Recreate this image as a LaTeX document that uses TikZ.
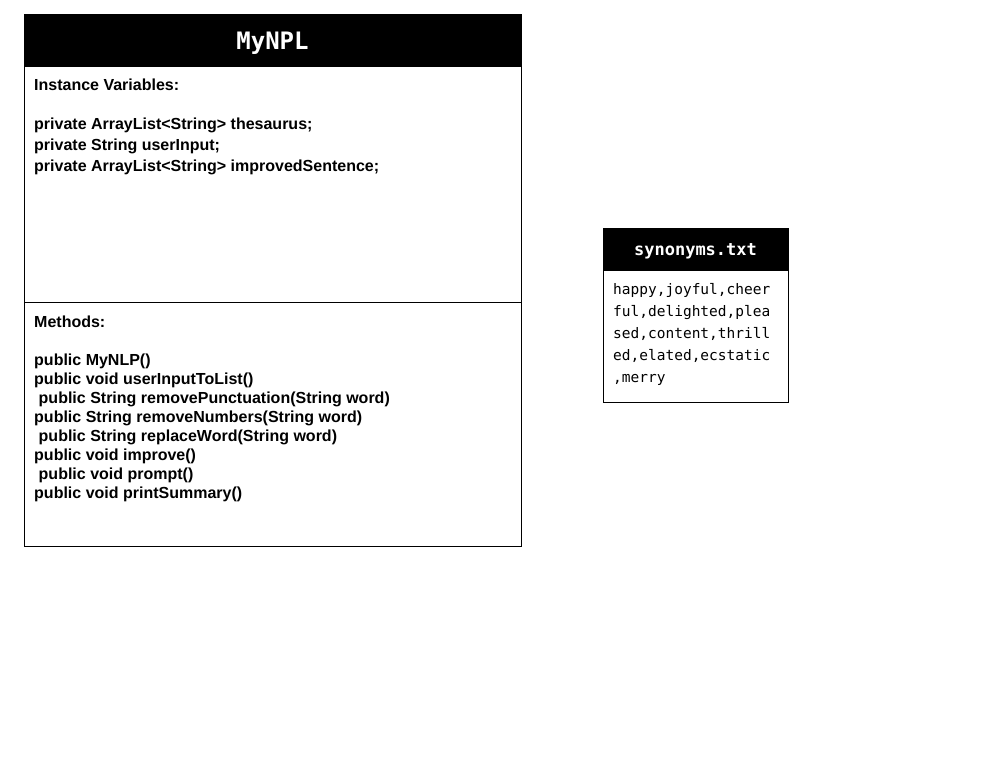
\documentclass[tikz,border=0pt]{standalone}
\usepackage{fontspec}
\setmainfont{Liberation Sans}
\newfontfamily\monof{DejaVu Sans Mono}
\begin{document}
\begin{tikzpicture}[x=1pt,y=-1pt,
  boxline/.style={draw=black,line width=0.8pt},
  head/.style={fill=black,draw=black,line width=0.8pt},
  txt/.style={anchor=base west,inner sep=0pt,font=\fontsize{16}{19}\selectfont\bfseries},
  mono/.style={anchor=base west,inner sep=0pt,font=\fontsize{14.5}{17}\monof}]
\useasboundingbox (0,0) rectangle (988,777);
% main class box
\draw[boxline,fill=white] (24,14) rectangle (521,546);
\filldraw[head] (24,14) rectangle (521,66);
\draw[boxline] (24,302) -- (521,302);
\node[inner sep=0pt,text=white,font=\fontsize{24}{28}\monof\bfseries] (title) at (272.5,43) {MyNPL};
\node[txt] (iv) at (34,90) {Instance Variables:};
\node[txt] (v1) at (34,129) {private ArrayList<String> thesaurus;};
\node[txt] (v2) at (34,150) {private String userInput;};
\node[txt] (v3) at (34,171) {private ArrayList<String> improvedSentence;};
\node[txt] (mh) at (34,327) {Methods:};
\node[txt] (m1) at (34,365) {public MyNLP()};
\node[txt] (m2) at (34,384) {public void userInputToList()};
\node[txt] (m3) at (38.5,403) {public String removePunctuation(String word)};
\node[txt] (m4) at (34,422) {public String removeNumbers(String word)};
\node[txt] (m5) at (38.5,441) {public String replaceWord(String word)};
\node[txt] (m6) at (34,460) {public void improve()};
\node[txt] (m7) at (38.5,479) {public void prompt()};
\node[txt] (m8) at (34,498) {public void printSummary()};
% synonyms box
\draw[boxline,fill=white] (603,228) rectangle (788,402);
\filldraw[head] (603,228) rectangle (788,270);
\node[inner sep=0pt,text=white,font=\fontsize{17}{20}\monof\bfseries] (stitle) at (695.5,251.5) {synonyms.txt};
\node[mono] (s1) at (613,294) {happy,joyful,cheer};
\node[mono] (s2) at (613,316) {ful,delighted,plea};
\node[mono] (s3) at (613,338) {sed,content,thrill};
\node[mono] (s4) at (613,360) {ed,elated,ecstatic};
\node[mono] (s5) at (613,382) {,merry};
\end{tikzpicture}
\end{document}
